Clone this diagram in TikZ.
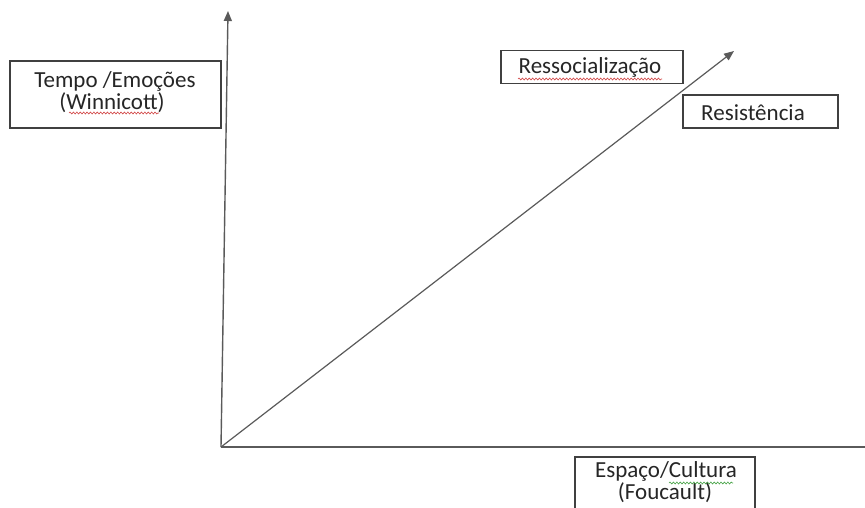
\documentclass[tikz,border=0pt]{standalone}
\usepackage{fontspec}
\setmainfont{Carlito}
\usetikzlibrary{arrows.meta,decorations.pathmorphing}
\definecolor{axisgray}{HTML}{5A5A5A}
\definecolor{boxgray}{HTML}{404040}
\definecolor{txt}{HTML}{262626}
\definecolor{spellred}{HTML}{D04040}
\definecolor{spellgreen}{HTML}{40A040}
\tikzset{
  box/.style={draw=boxgray, line width=1.1pt, fill=white, inner sep=0pt},
  lbl/.style={text=txt, font=\fontsize{23}{27}\selectfont, inner sep=0pt, anchor=base},
  axis/.style={draw=axisgray, line width=1.4pt},
  arrowax/.style={axis, -{Triangle[length=10pt,width=8pt]}},
  wavy/.style={line width=0.6pt, decorate, decoration={snake, amplitude=1pt, segment length=3.4pt}}
}
\begin{document}
\begin{tikzpicture}[x=1pt,y=-1pt]
\useasboundingbox (0,0) rectangle (865,507);
% axes
\coordinate (o) at (221,447);
\coordinate (ytop) at (228,11);
\coordinate (xend) at (866,447);
\coordinate (dtop) at (734,51);
\draw[arrowax] (o) -- (ytop);
\draw[axis] (o) -- (xend);
\draw[arrowax, line width=1.2pt] (o) -- (dtop);
% boxes
\node[box, minimum width=211pt, minimum height=67pt] (tempobox) at (115.5,94.5) {};
\node[lbl] (tempo1) at (115,87) {Tempo /Emoções};
\node[lbl] (tempo2) at (112,109) {(Winnicott)};
\node[box, minimum width=182pt, minimum height=33pt] (resbox) at (592,67) {};
\node[lbl] (ressoc) at (590,73) {Ressocialização};
\node[box, minimum width=155pt, minimum height=33pt] (resistbox) at (760.5,111.5) {};
\node[lbl] (resist) at (753,120) {Resistência};
\node[box, minimum width=180pt, minimum height=70pt] (espbox) at (665,492) {};
\node[lbl] (esp1) at (666,477) {Espaço/Cultura};
\node[lbl] (esp2) at (665,499) {(Foucault)};
% spell-check underlines
\coordinate (w1) at (69,113); \coordinate (w2) at (159,113);
\draw[wavy, spellred] (w1) -- (w2);
\coordinate (r1) at (518,79); \coordinate (r2) at (662,79);
\draw[wavy, spellred] (r1) -- (r2);
\coordinate (c1) at (669,483); \coordinate (c2) at (733,483);
\draw[wavy, spellgreen] (c1) -- (c2);
\end{tikzpicture}
\end{document}
